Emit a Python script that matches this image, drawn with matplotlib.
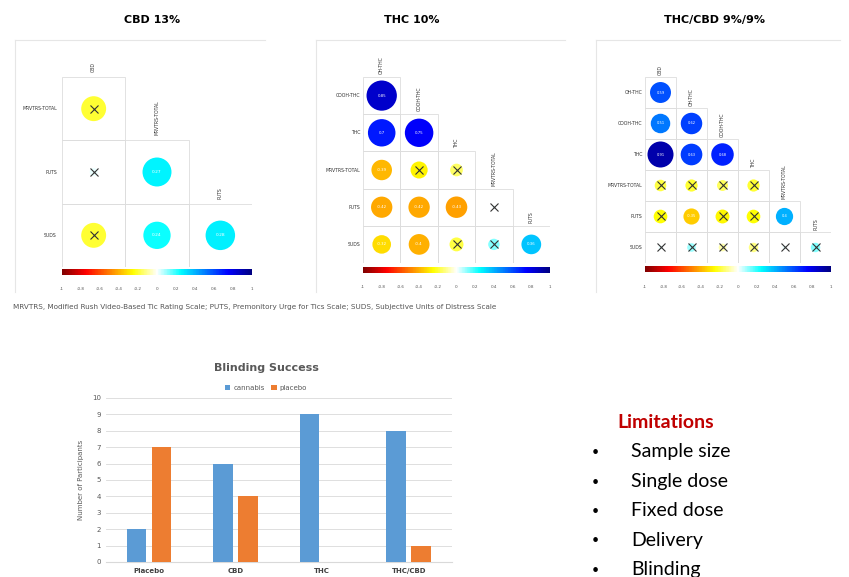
import numpy as np
import matplotlib
matplotlib.use("Agg")
import matplotlib.pyplot as plt
from matplotlib.colors import LinearSegmentedColormap, Normalize
from matplotlib.cm import ScalarMappable
from matplotlib.patches import Circle, Rectangle
from matplotlib.lines import Line2D

# correlation panels (lower triangle, rows = vars[1:], cols = vars[:-1])
cbd_vars = ["CBD", "MRVTRS-TOTAL", "PUTS", "SUDS"]
cbd_r = [[-0.2],
         [0.02, 0.27],
         [-0.2, 0.24, 0.28]]
cbd_sig = [[0],
           [0, 1],
           [0, 1, 1]]

thc_vars = ["OH-THC", "COOH-THC", "THC", "MRVTRS-TOTAL", "PUTS", "SUDS"]
thc_r = [[0.85],
         [0.7, 0.75],
         [-0.39, -0.27, -0.15],
         [-0.42, -0.42, -0.43, 0.01],
         [-0.32, -0.4, -0.18, 0.12, 0.36]]
thc_sig = [[1],
           [1, 1],
           [1, 0, 0],
           [1, 1, 1, 0],
           [1, 1, 0, 0, 1]]

mix_vars = ["CBD", "OH-THC", "COOH-THC", "THC", "MRVTRS-TOTAL", "PUTS", "SUDS"]
mix_r = [[0.59],
         [0.51, 0.62],
         [0.91, 0.63, 0.68],
         [-0.18, -0.2, -0.16, -0.2],
         [-0.25, -0.35, -0.26, -0.25, 0.4],
         [0.02, 0.1, -0.08, -0.12, 0.02, 0.12]]
mix_sig = [[1],
           [1, 1],
           [1, 1, 1],
           [0, 0, 0, 0],
           [0, 1, 0, 0, 1],
           [0, 0, 0, 0, 0, 0]]

# blinding bar chart
groups = ["Placebo", "CBD", "THC", "THC/CBD"]
cannabis = [2, 6, 9, 8]
placebo = [7, 4, 0, 1]

limitations = ["Sample size", "Single dose", "Fixed dose", "Delivery", "Blinding"]

W, H = 849, 577
fig = plt.figure(figsize=(W / 100, H / 100), dpi=100)

cmap = LinearSegmentedColormap.from_list(
    "corr", ["#7F0000", "red", "#FF7F00", "yellow", "white",
             "cyan", "#007FFF", "blue", "#00007F"])
norm = Normalize(-1, 1)


def px_axes(x0, y0, x1, y1):
    return fig.add_axes([x0 / W, 1 - y1 / H, (x1 - x0) / W, (y1 - y0) / H])


def corr_panel(vars_, r, sig, box, cbar_y, title, title_x, frame, numsize):
    x0, y0, x1, y1 = box
    n = len(vars_) - 1
    ax = px_axes(x0, y0, x1, y1)
    ax.set_xlim(0, n)
    ax.set_ylim(n, 0)
    ax.axis("off")
    for i in range(n):
        for j in range(i + 1):
            ax.add_patch(Rectangle((j, i), 1, 1, fill=False, ec="#DDDDDD", lw=0.6))
            v = r[i][j]
            ax.add_patch(Circle((j + 0.5, i + 0.5), 0.44 * np.sqrt(abs(v)),
                                color=cmap(norm(v)), lw=0))
            if sig[i][j]:
                ax.text(j + 0.5, i + 0.5, f"{v:g}", color="white", fontsize=numsize,
                        ha="center", va="center")
            else:
                ax.plot(j + 0.5, i + 0.5, marker="x", ms=5.5, mew=0.8, color="#333333")
    for i in range(n):
        ax.text(-0.08, i + 0.5, vars_[i + 1], ha="right", va="center",
                fontsize=3.3, color="#333333")
        ax.text(i + 0.5, i - 0.08, vars_[i], ha="center", va="bottom",
                rotation=90, fontsize=3.3, color="#333333")

    cax = px_axes(x0, cbar_y, x1, cbar_y + 6)
    cb = fig.colorbar(ScalarMappable(norm=norm, cmap=cmap), cax=cax,
                      orientation="horizontal")
    cb.outline.set_visible(False)
    ticks = np.round(np.linspace(-1, 1, 11), 1)
    cb.set_ticks(ticks)
    cb.set_ticklabels([f"{t:g}" for t in ticks])
    cax.tick_params(length=0, labelsize=3, pad=9, colors="#555555")

    fig.text(title_x / W, 1 - 20 / H, title, ha="center", va="center",
             fontsize=8, fontweight="bold")
    fx0, fx1 = frame
    fig.add_artist(Line2D([fx0 / W, fx1 / W], [1 - 40 / H, 1 - 40 / H],
                          color="#E6E6E6", lw=0.8))
    fig.add_artist(Line2D([fx0 / W, fx0 / W], [1 - 40 / H, 1 - 292 / H],
                          color="#E6E6E6", lw=0.8))


corr_panel(cbd_vars, cbd_r, cbd_sig, (62, 77, 252, 267), 269, "CBD 13%", 152, (15, 265), 3.2)
corr_panel(thc_vars, thc_r, thc_sig, (363, 77, 550, 263), 267, "THC 10%", 412, (316, 565), 2.8)
corr_panel(mix_vars, mix_r, mix_sig, (645, 77, 831, 263), 266, "THC/CBD 9%/9%", 715, (596, 840), 2.6)

fig.text(13 / W, 1 - 307 / H,
         "MRVTRS, Modified Rush Video-Based Tic Rating Scale; PUTS, Premonitory Urge "
         "for Tics Scale; SUDS, Subjective Units of Distress Scale",
         fontsize=5.2, color="#555555", va="center", ha="left")

# bar chart
bx = px_axes(106, 398, 452, 562)
x = np.arange(len(groups))
bx.bar(x - 0.145, cannabis, width=0.225, color="#5B9BD5", label="cannabis", zorder=3)
bx.bar(x + 0.14, placebo, width=0.225, color="#ED7D31", label="placebo", zorder=3)
bx.set_xlim(-0.5, 3.5)
bx.set_ylim(0, 10)
bx.set_yticks(range(11))
bx.set_xticks(x)
bx.set_xticklabels(groups, fontsize=5, fontweight="bold", color="#404040")
bx.tick_params(axis="y", labelsize=5, colors="#595959", length=0)
bx.tick_params(axis="x", length=0, pad=4)
bx.grid(axis="y", color="#D9D9D9", lw=0.6, zorder=0)
for s in ["top", "right", "left"]:
    bx.spines[s].set_visible(False)
bx.spines["bottom"].set_color("#D9D9D9")
bx.set_ylabel("Number of Participants", fontsize=5, color="#595959", labelpad=6)
fig.text(266 / W, 1 - 368 / H, "Blinding Success", ha="center", va="center",
         fontsize=8, fontweight="bold", color="#595959")
fig.legend(*bx.get_legend_handles_labels(), loc="center", ncol=2,
           bbox_to_anchor=(266 / W, 1 - 388 / H), frameon=False, fontsize=5,
           handlelength=0.8, handleheight=0.8, columnspacing=1.0, handletextpad=0.4,
           labelcolor="#595959")

# limitations list
fig.text(617 / W, 1 - 423 / H, "Limitations", fontsize=14, fontweight="bold",
         color="#C00000", family="Lato", va="center", ha="left")
for k, item in enumerate(limitations):
    yy = 1 - (452 + 29.5 * k) / H
    fig.text(595 / W, yy, "\u2022", fontsize=9, va="center", ha="center", family="Lato")
    fig.text(631 / W, yy, item, fontsize=14, va="center", ha="left", family="Lato")

plt.savefig("out.png", dpi=100)
